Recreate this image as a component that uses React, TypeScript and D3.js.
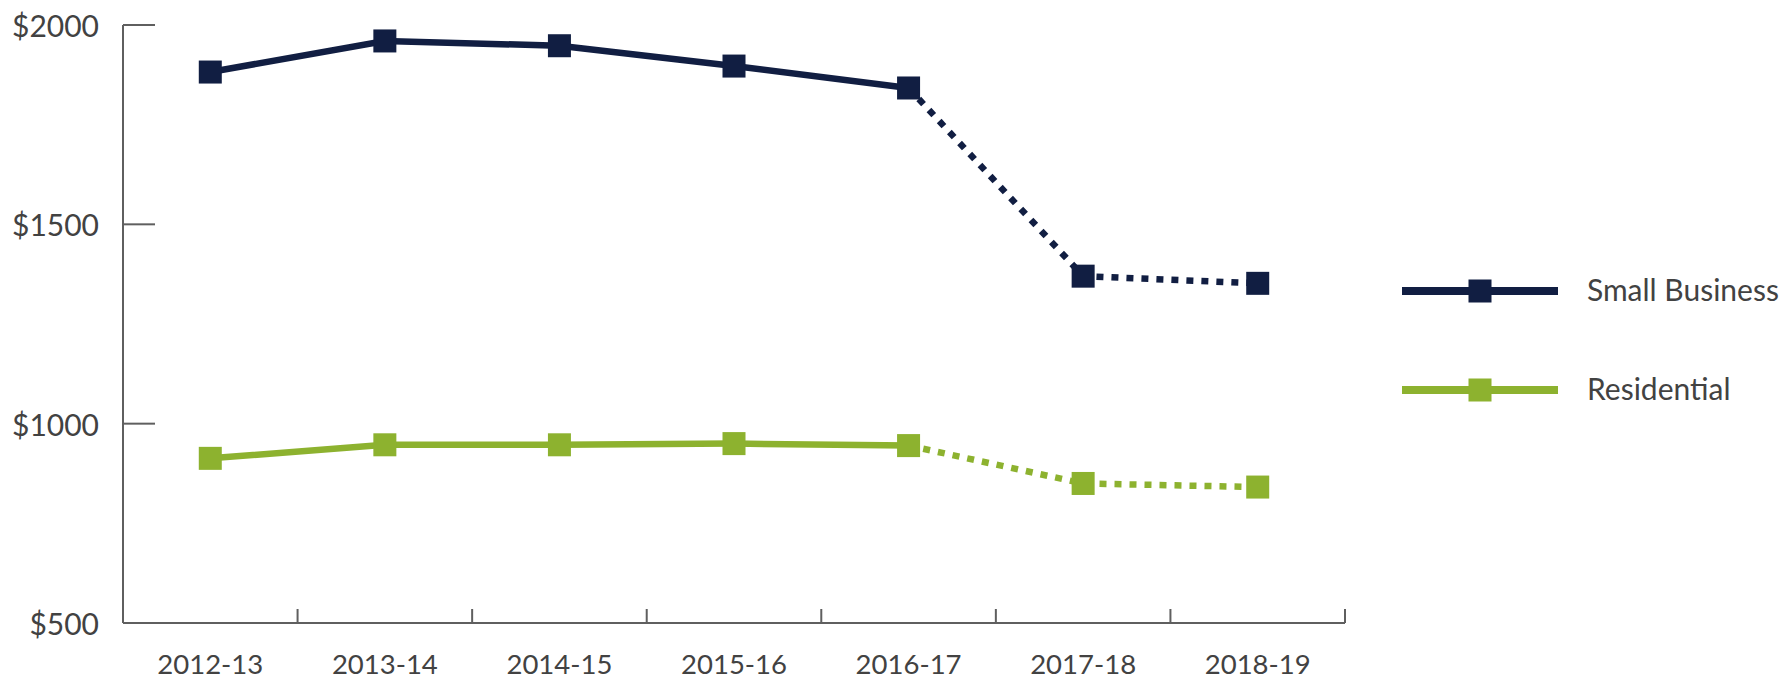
import React from 'react';
import * as d3 from 'd3';

const years = ['2012-13', '2013-14', '2014-15', '2015-16', '2016-17', '2017-18', '2018-19'];
const smallBusiness = [1882, 1960, 1948, 1897, 1842, 1370, 1352];
const residential = [913, 947, 947, 950, 945, 850, 841];
const yTicks = [500, 1000, 1500, 2000];
// index where the projected (dotted) part starts
const projectedFrom = 4;

const seriesList = [
  { name: 'Small Business', values: smallBusiness, color: '#111e42' },
  { name: 'Residential', values: residential, color: '#8db22f' },
];

const W = 1792;
const H = 681;
const left = 123;
const right = 1345;
const top = 25;
const bottom = 623;
const font = 'Lato, "Open Sans", sans-serif';
const axisColor = '#5f5f5f';
const textColor = '#424242';
const marker = 23;

export default function App() {
  const x = d3.scaleBand<string>().domain(years).range([left, right]);
  const y = d3.scaleLinear().domain([500, 2000]).range([bottom, top]);
  const cx = (d: string) => (x(d) as number) + x.bandwidth() / 2;

  const line = d3
    .line<number>()
    .x((_, i) => cx(years[i]))
    .y((v) => y(v));

  return (
    <svg
      width={W}
      height={H}
      style={{ position: 'absolute', left: 0, top: 0, background: '#fff' }}
      fontFamily={font}
    >
      {/* y axis */}
      <line x1={left} x2={left} y1={top} y2={bottom} stroke={axisColor} strokeWidth={2} />
      {yTicks.map((t) => (
        <g key={t}>
          {t > 500 && (
            <line x1={left} x2={left + 32} y1={y(t)} y2={y(t)} stroke={axisColor} strokeWidth={2} />
          )}
          <text
            x={99}
            y={y(t)}
            textAnchor="end"
            dominantBaseline="central"
            fontSize={30}
            fill={textColor}
          >
            ${t}
          </text>
        </g>
      ))}

      {/* x axis */}
      <line x1={left} x2={right} y1={bottom} y2={bottom} stroke={axisColor} strokeWidth={2} />
      {years.map((yr) => (
        <g key={yr}>
          <line
            x1={(x(yr) as number) + x.bandwidth()}
            x2={(x(yr) as number) + x.bandwidth()}
            y1={bottom}
            y2={bottom - 14}
            stroke={axisColor}
            strokeWidth={2}
          />
          <text
            x={cx(yr)}
            y={663}
            textAnchor="middle"
            dominantBaseline="central"
            fontSize={27.5}
            fill={textColor}
          >
            {yr}
          </text>
        </g>
      ))}

      {/* series */}
      {seriesList.map((s) => {
        const solid = s.values.slice(0, projectedFrom + 1);
        const dottedIdx = d3.range(projectedFrom, s.values.length);
        const dottedPath = d3
          .line<number>()
          .x((i) => cx(years[i]))
          .y((i) => y(s.values[i]))(dottedIdx);
        return (
          <g key={s.name}>
            <path d={line(solid) || ''} fill="none" stroke={s.color} strokeWidth={6.5} />
            <path
              d={dottedPath || ''}
              fill="none"
              stroke={s.color}
              strokeWidth={6.5}
              strokeDasharray="7 8"
            />
            {s.values.map((v, i) => (
              <rect
                key={i}
                x={cx(years[i]) - marker / 2}
                y={y(v) - marker / 2}
                width={marker}
                height={marker}
                fill={s.color}
              />
            ))}
          </g>
        );
      })}

      {/* legend */}
      {seriesList.map((s, i) => {
        const ly = 291 + i * 99;
        return (
          <g key={s.name}>
            <line x1={1402} x2={1558} y1={ly} y2={ly} stroke={s.color} strokeWidth={8} />
            <rect x={1480 - marker / 2} y={ly - marker / 2} width={marker} height={marker} fill={s.color} />
            <text x={1587} y={ly - 2} dominantBaseline="central" fontSize={30} fill={textColor}>
              {s.name}
            </text>
          </g>
        );
      })}
    </svg>
  );
}
